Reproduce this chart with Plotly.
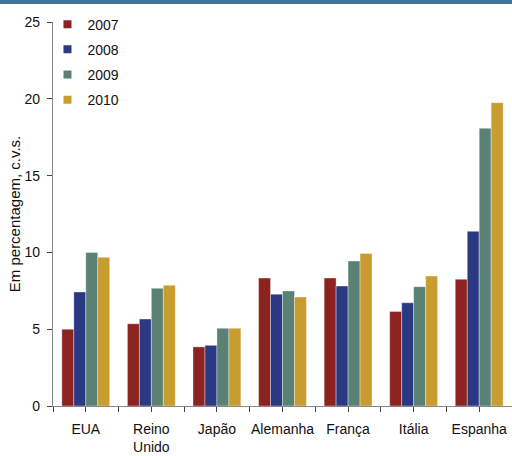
import plotly.graph_objects as go

categories = ["EUA", "Reino<br>Unido", "Japão", "Alemanha", "França", "Itália", "Espanha"]
years = ["2007", "2008", "2009", "2010"]
v2007 = [5.0, 5.35, 3.85, 8.33, 8.33, 6.15, 8.25]
v2008 = [7.42, 5.66, 3.95, 7.28, 7.81, 6.72, 11.37]
v2009 = [10.0, 7.66, 5.06, 7.49, 9.44, 7.77, 18.08]
v2010 = [9.68, 7.86, 5.06, 7.10, 9.93, 8.46, 19.75]
colors = ["#8C2320", "#2B3883", "#5A8174", "#C99C2F"]
series = [v2007, v2008, v2009, v2010]

W, H = 512, 456
ML, MR, MT, MB = 53, 0, 22, 50
PW, PH = W - ML - MR, H - MT - MB

xs = list(range(len(categories)))
fig = go.Figure()
for i, (name, vals) in enumerate(zip(years, series)):
    fig.add_trace(go.Bar(x=xs, y=vals, name=name, marker=dict(color=colors[i], line=dict(color="rgba(255,255,255,0.6)", width=0.6)),
                         showlegend=False))
    fig.add_trace(go.Scatter(x=[None], y=[None], mode="markers", name=name, legendgroup=name,
                             marker=dict(symbol="square", size=8, color=colors[i])))

fig.update_layout(
    width=W, height=H,
    margin=dict(l=ML, r=MR, t=MT, b=MB),
    paper_bgcolor="white", plot_bgcolor="white",
    barmode="group", bargap=0.27, bargroupgap=0,
    font=dict(family="Liberation Sans, Arial, sans-serif", size=14, color="#111"),
    legend=dict(x=-0.012, y=1.035, xanchor="left", yanchor="top", font=dict(size=14),
                tracegroupgap=4, bgcolor="rgba(0,0,0,0)", itemwidth=30),
    xaxis=dict(range=[-0.5, 6.5], tickmode="array", tickvals=xs, ticktext=categories,
               ticks="", showline=True, linecolor="#888", linewidth=1.2, showgrid=False,
               zeroline=False, ticklabelstandoff=10, automargin=False,
               minor=dict(tickmode="array", tickvals=[x / 2 - 0.5 for x in range(15)], ticks="outside",
                          ticklen=5, tickcolor="#444", showgrid=False)),
    yaxis=dict(range=[0, 25], dtick=5, ticks="outside", ticklen=5, tickcolor="#444",
               showline=True, linecolor="#888", linewidth=1.2, showgrid=False, zeroline=False,
               ticklabelstandoff=4, automargin=False,
               title=dict(text="Em percentagem, c.v.s.", font=dict(size=15), standoff=0)),
    shapes=[dict(type="rect", xref="paper", yref="paper", x0=-ML / PW, x1=1,
                 y0=1 + (MT - 4) / PH, y1=1 + MT / PH, fillcolor="#44739A", line=dict(width=0))],
)

fig.write_html("out.html")
